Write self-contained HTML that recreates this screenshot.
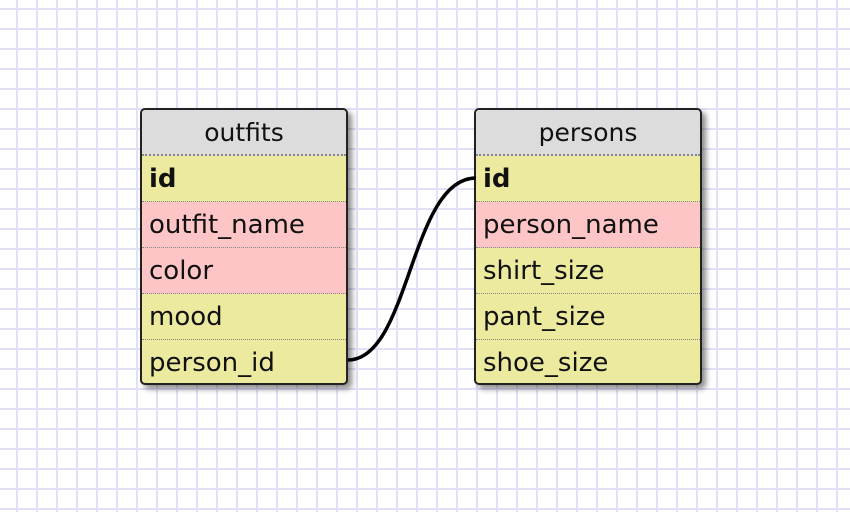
<!DOCTYPE html>
<html><head><style>
body{margin:0;width:850px;height:512px;overflow:hidden;background-color:#fff;
background-image:linear-gradient(90deg,transparent 16px,#e2e0f7 16px,#e2e0f7 18px,transparent 18px),linear-gradient(180deg,transparent 8px,#e2e0f7 8px,#e2e0f7 10px,transparent 10px);
background-size:20px 20px;position:relative;font-family:"DejaVu Sans","Liberation Sans",sans-serif;}
.t{position:absolute;border:2px solid #222;border-radius:5px;background:#ecea9f;box-shadow:4px 4px 6px rgba(0,0,0,0.45);overflow:hidden}
.h{height:44px;background:#dcdcdc;text-align:center;line-height:46px;font-size:25px;color:#111;border-bottom:2px dotted #888}
.r{height:45px;line-height:46px;font-size:26px;padding-left:7px;color:#111;border-bottom:1px dotted #888;box-sizing:content-box;white-space:nowrap}
.r:last-child{border-bottom:none}
.p{background:#fdc5c5}
.b{font-weight:bold}
</style></head><body>
<div class="t" style="left:140px;top:108px;width:204px;height:273px">
<div class="h">outfits</div>
<div class="r b">id</div>
<div class="r p">outfit_name</div>
<div class="r p">color</div>
<div class="r">mood</div>
<div class="r">person_id</div>
</div>
<div class="t" style="left:474px;top:108px;width:224px;height:273px">
<div class="h">persons</div>
<div class="r b">id</div>
<div class="r p">person_name</div>
<div class="r">shirt_size</div>
<div class="r">pant_size</div>
<div class="r">shoe_size</div>
</div>
<svg style="position:absolute;left:0;top:0" width="850" height="512">
<path d="M348 360 C410 360,410 178,476 178" fill="none" stroke="#000" stroke-width="3.5"/>
</svg>
</body></html>
